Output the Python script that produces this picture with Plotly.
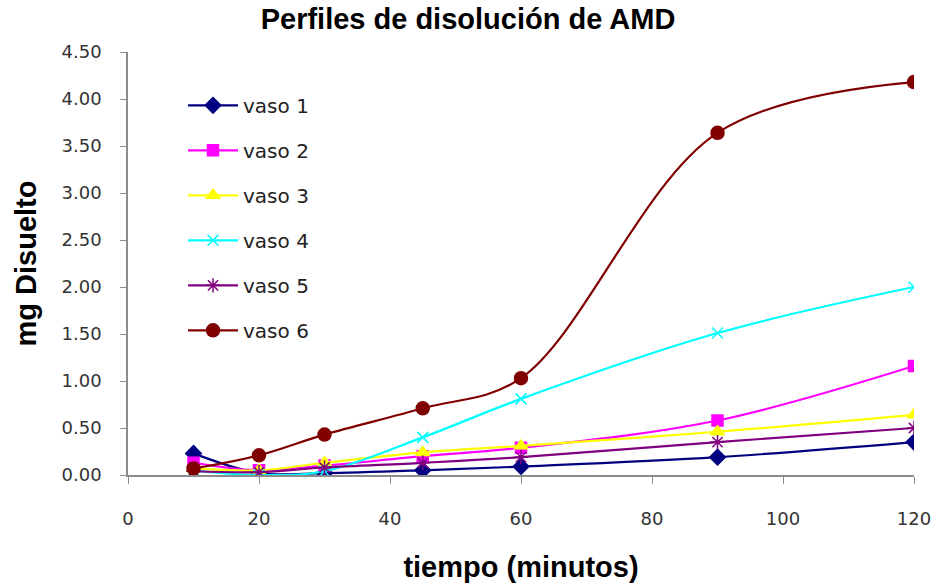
import plotly.graph_objects as go

# Sampling times (minutes)
tiempo = [10, 20, 30, 45, 60, 90, 120]

# Dissolved amount (mg) per vessel
vaso_1 = [0.23, 0.02, 0.02, 0.05, 0.09, 0.19, 0.35]
vaso_2 = [0.13, 0.05, 0.10, 0.20, 0.29, 0.58, 1.16]
vaso_3 = [0.07, 0.05, 0.13, 0.24, 0.31, 0.46, 0.64]
vaso_4 = [0.05, 0.00, 0.04, 0.40, 0.81, 1.51, 2.00]
vaso_5 = [0.04, 0.03, 0.08, 0.13, 0.19, 0.35, 0.50]
vaso_6 = [0.07, 0.21, 0.43, 0.71, 1.03, 3.64, 4.18]

series = [
    ("vaso 1", vaso_1, "#000080", "diamond", 12),
    ("vaso 2", vaso_2, "#FF00FF", "square", 11),
    ("vaso 3", vaso_3, "#FFFF00", "triangle-up", 12),
    ("vaso 4", vaso_4, "#00FFFF", "x-thin-open", 11),
    ("vaso 5", vaso_5, "#800080", "asterisk-open", 12),
    ("vaso 6", vaso_6, "#800000", "circle", 13),
]

fig = go.Figure()
for i, (name, vals, color, symbol, size) in enumerate(series):
    fig.add_trace(go.Scatter(
        x=tiempo, y=vals, name=name, mode="lines+markers",
        legendgroup=f"g{i}",
        line=dict(color=color, width=2.2, shape="spline", smoothing=1.0),
        marker=dict(symbol=symbol, size=size, color=color,
                    line=dict(color=color, width=1.5)),
    ))

tick_font = dict(family="DejaVu Sans, sans-serif", size=18, color="#333333")
title_font = dict(family="Liberation Sans, Arial, sans-serif", size=29, color="#000000")

fig.update_layout(
    width=936, height=583,
    paper_bgcolor="white", plot_bgcolor="white",
    margin=dict(l=128, r=22, t=52, b=108, autoexpand=False),
    title=dict(text="<b>Perfiles de disolución de AMD</b>", x=0.5, xanchor="center",
               y=0.968, yanchor="middle", font=title_font),
    showlegend=True,
    legend=dict(x=0.07, y=0.92, xanchor="left", yanchor="top",
                bgcolor="rgba(0,0,0,0)",
                font=dict(family="DejaVu Sans, sans-serif", size=20, color="#222222"),
                tracegroupgap=16, traceorder="grouped", itemwidth=50),
    xaxis=dict(range=[0, 120], dtick=20, tick0=0, showgrid=False, zeroline=False,
               showline=True, linecolor="#8c8c8c", linewidth=1.5, automargin=False,
               ticks="outside", ticklen=7, tickcolor="#8c8c8c", tickfont=tick_font,
               ticklabelstandoff=20,
               title=dict(text="<b>tiempo (minutos)</b>", font=title_font, standoff=28)),
    yaxis=dict(range=[0, 4.5], dtick=0.5, tick0=0, tickformat=".2f", showgrid=False,
               zeroline=False, showline=True, linecolor="#8c8c8c", linewidth=1.5,
               automargin=False,
               ticks="outside", ticklen=6, tickcolor="#8c8c8c", tickfont=tick_font,
               ticklabelstandoff=15,
               title=dict(text="<b>mg Disuelto</b>", font=title_font, standoff=16)),
)

fig.write_html("out.html")
